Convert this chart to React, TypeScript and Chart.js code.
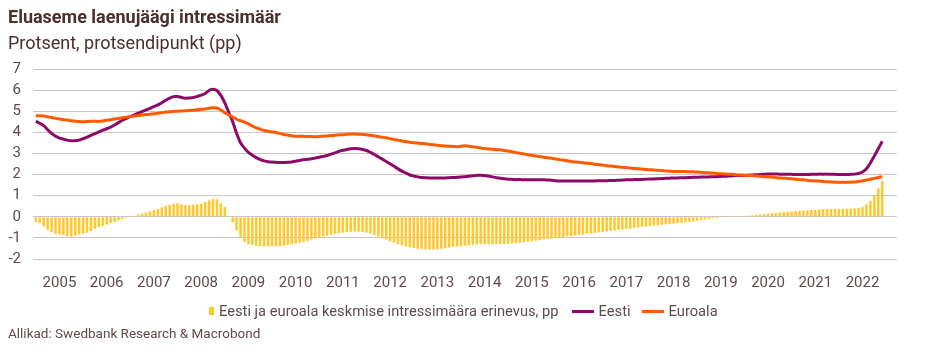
import React, { useEffect, useRef } from "react";
import { Chart, registerables } from "chart.js";

Chart.register(...registerables);

const START_YEAR = 2005;
const YEAR_LABELS = [2005, 2006, 2007, 2008, 2009, 2010, 2011, 2012, 2013, 2014, 2015, 2016, 2017, 2018, 2019, 2020, 2021, 2022];
const Y_TICKS = [-2, -1, 0, 1, 2, 3, 4, 5, 6, 7];

// Monthly, Jan 2005 - Dec 2022
const EESTI = [
  4.53, 4.43, 4.32, 4.12, 3.95, 3.82, 3.73, 3.68, 3.63, 3.60, 3.60, 3.63,
  3.70, 3.77, 3.86, 3.94, 4.02, 4.10, 4.17, 4.25, 4.35, 4.46, 4.57, 4.66,
  4.75, 4.83, 4.91, 4.98, 5.06, 5.14, 5.22, 5.30, 5.40, 5.52, 5.62, 5.69,
  5.70, 5.65, 5.62, 5.63, 5.65, 5.70, 5.76, 5.84, 5.98, 6.04, 5.98, 5.75,
  5.40, 4.95, 4.50, 3.95, 3.50, 3.25, 3.05, 2.92, 2.80, 2.71, 2.65, 2.61,
  2.59, 2.58, 2.57, 2.57, 2.58, 2.60, 2.63, 2.67, 2.70, 2.72, 2.75, 2.78,
  2.82, 2.86, 2.90, 2.97, 3.03, 3.10, 3.15, 3.19, 3.22, 3.23, 3.22, 3.19,
  3.14, 3.05, 2.95, 2.84, 2.73, 2.62, 2.51, 2.39, 2.27, 2.16, 2.07, 1.98,
  1.93, 1.89, 1.86, 1.85, 1.84, 1.84, 1.84, 1.84, 1.84, 1.85, 1.86, 1.87,
  1.88, 1.90, 1.92, 1.94, 1.96, 1.97, 1.95, 1.93, 1.89, 1.85, 1.83, 1.80,
  1.78, 1.77, 1.76, 1.76, 1.75, 1.75, 1.75, 1.75, 1.75, 1.75, 1.74, 1.73,
  1.71, 1.70, 1.70, 1.69, 1.69, 1.69, 1.69, 1.69, 1.70, 1.70, 1.70, 1.71,
  1.71, 1.71, 1.72, 1.72, 1.73, 1.74, 1.75, 1.75, 1.76, 1.77, 1.77, 1.78,
  1.79, 1.79, 1.80, 1.81, 1.82, 1.83, 1.84, 1.84, 1.85, 1.85, 1.86, 1.87,
  1.87, 1.88, 1.88, 1.89, 1.90, 1.90, 1.91, 1.92, 1.93, 1.94, 1.95, 1.95,
  1.96, 1.97, 1.98, 1.99, 2.00, 2.02, 2.03, 2.03, 2.03, 2.02, 2.02, 2.01,
  2.01, 2.00, 2.00, 2.00, 2.00, 2.01, 2.01, 2.02, 2.02, 2.02, 2.01, 2.01,
  2.00, 2.00, 2.00, 2.01, 2.02, 2.05, 2.12, 2.27, 2.55, 2.88, 3.22, 3.58,
];

const EUROALA = [
  4.79, 4.79, 4.78, 4.74, 4.70, 4.66, 4.63, 4.60, 4.58, 4.55, 4.53, 4.51,
  4.50, 4.51, 4.52, 4.52, 4.52, 4.54, 4.57, 4.60, 4.63, 4.66, 4.69, 4.72,
  4.75, 4.77, 4.80, 4.82, 4.84, 4.86, 4.88, 4.91, 4.93, 4.96, 4.98, 4.99,
  5.00, 5.01, 5.02, 5.03, 5.05, 5.07, 5.09, 5.11, 5.14, 5.17, 5.15, 5.06,
  4.93, 4.83, 4.73, 4.62, 4.55, 4.48, 4.40, 4.30, 4.21, 4.15, 4.09, 4.05,
  4.02, 3.99, 3.95, 3.90, 3.87, 3.84, 3.81, 3.81, 3.81, 3.80, 3.80, 3.79,
  3.80, 3.82, 3.83, 3.85, 3.86, 3.88, 3.89, 3.91, 3.92, 3.92, 3.91, 3.90,
  3.89, 3.86, 3.83, 3.80, 3.77, 3.74, 3.70, 3.66, 3.63, 3.59, 3.56, 3.53,
  3.51, 3.49, 3.47, 3.46, 3.43, 3.41, 3.39, 3.37, 3.35, 3.34, 3.33, 3.32,
  3.34, 3.36, 3.34, 3.32, 3.29, 3.26, 3.23, 3.21, 3.20, 3.18, 3.17, 3.14,
  3.11, 3.08, 3.04, 3.01, 2.98, 2.94, 2.91, 2.88, 2.85, 2.82, 2.80, 2.77,
  2.74, 2.71, 2.68, 2.65, 2.62, 2.60, 2.58, 2.56, 2.54, 2.52, 2.49, 2.47,
  2.45, 2.42, 2.40, 2.38, 2.36, 2.34, 2.33, 2.31, 2.29, 2.28, 2.26, 2.24,
  2.23, 2.22, 2.20, 2.19, 2.17, 2.16, 2.15, 2.14, 2.14, 2.14, 2.13, 2.13,
  2.12, 2.11, 2.09, 2.08, 2.07, 2.05, 2.04, 2.03, 2.02, 2.01, 1.99, 1.98,
  1.97, 1.96, 1.95, 1.93, 1.92, 1.90, 1.89, 1.88, 1.86, 1.84, 1.83, 1.81,
  1.80, 1.78, 1.76, 1.75, 1.73, 1.71, 1.70, 1.69, 1.67, 1.66, 1.65, 1.64,
  1.63, 1.63, 1.63, 1.64, 1.65, 1.67, 1.70, 1.74, 1.78, 1.82, 1.86, 1.90,
];

const ERINEVUS = [
  -0.25, -0.30, -0.46, -0.62, -0.73, -0.81, -0.84, -0.87, -0.92, -0.94, -0.90, -0.84,
  -0.81, -0.76, -0.68, -0.57, -0.49, -0.43, -0.37, -0.30, -0.24, -0.17, -0.11, -0.05,
  -0.02, 0.00, 0.10, 0.16, 0.20, 0.25, 0.32, 0.37, 0.44, 0.51, 0.56, 0.62,
  0.65, 0.59, 0.56, 0.56, 0.57, 0.59, 0.62, 0.70, 0.78, 0.84, 0.83, 0.65,
  0.46, 0.05, -0.25, -0.65, -0.97, -1.19, -1.29, -1.33, -1.38, -1.39, -1.40, -1.40,
  -1.40, -1.40, -1.40, -1.37, -1.33, -1.30, -1.27, -1.23, -1.19, -1.14, -1.08, -1.03,
  -0.98, -0.94, -0.89, -0.85, -0.81, -0.78, -0.75, -0.73, -0.71, -0.70, -0.70, -0.72,
  -0.75, -0.80, -0.86, -0.93, -1.00, -1.08, -1.16, -1.23, -1.29, -1.35, -1.41, -1.45,
  -1.49, -1.52, -1.54, -1.55, -1.56, -1.55, -1.54, -1.52, -1.49, -1.46, -1.43, -1.41,
  -1.40, -1.38, -1.36, -1.33, -1.31, -1.30, -1.30, -1.30, -1.30, -1.30, -1.30, -1.29,
  -1.28, -1.27, -1.26, -1.24, -1.21, -1.18, -1.16, -1.13, -1.10, -1.07, -1.05, -1.03,
  -1.01, -0.99, -0.96, -0.93, -0.91, -0.88, -0.86, -0.84, -0.81, -0.79, -0.77, -0.74,
  -0.72, -0.70, -0.67, -0.65, -0.62, -0.60, -0.58, -0.56, -0.53, -0.51, -0.48, -0.46,
  -0.44, -0.42, -0.40, -0.38, -0.36, -0.34, -0.32, -0.30, -0.28, -0.26, -0.24, -0.22,
  -0.19, -0.16, -0.13, -0.10, -0.08, -0.06, -0.04, -0.03, -0.01, 0.00, 0.01, 0.02,
  0.03, 0.05, 0.07, 0.09, 0.11, 0.13, 0.15, 0.17, 0.18, 0.20, 0.22, 0.24,
  0.25, 0.27, 0.28, 0.30, 0.31, 0.32, 0.33, 0.35, 0.36, 0.37, 0.37, 0.38,
  0.38, 0.38, 0.38, 0.39, 0.40, 0.42, 0.45, 0.58, 0.75, 1.00, 1.35, 1.70,
];

const C_EESTI = "#8c0a68";
const C_EURO = "#ff5a00";
const C_BAR = "#ffc82e";
const C_TEXT = "#4a2f2f";
const C_TICK = "#5e4c4c";
const C_GRID = "#cfc4c5";
const FONT = "Roboto, 'Noto Sans', sans-serif";

const monthX = (i: number) => START_YEAR + i / 12;

export default function App() {
  const ref = useRef<HTMLCanvasElement | null>(null);

  useEffect(() => {
    if (!ref.current) return;
    const chart = new Chart(ref.current, {
      type: "bar",
      data: {
        datasets: [
          {
            type: "line",
            label: "Euroala",
            data: EUROALA.map((v, i) => ({ x: monthX(i), y: v })),
            borderColor: C_EURO,
            backgroundColor: C_EURO,
            borderWidth: 3,
            pointRadius: 0,
            tension: 0.3,
            order: 1,
          },
          {
            type: "line",
            label: "Eesti",
            data: EESTI.map((v, i) => ({ x: monthX(i), y: v })),
            borderColor: C_EESTI,
            backgroundColor: C_EESTI,
            borderWidth: 3,
            pointRadius: 0,
            tension: 0.3,
            order: 2,
          },
          {
            type: "bar",
            label: "Eesti ja euroala keskmise intressimäära erinevus, pp",
            data: ERINEVUS.map((v, i) => ({ x: monthX(i), y: v })),
            backgroundColor: C_BAR,
            borderWidth: 0,
            barPercentage: 0.65,
            categoryPercentage: 1,
            order: 3,
          } as any,
        ],
      },
      options: {
        animation: false,
        responsive: false,
        maintainAspectRatio: false,
        layout: { padding: { top: 69, bottom: 68, left: 0, right: 28 } },
        plugins: {
          legend: { display: false },
          tooltip: { enabled: false },
          title: { display: false },
        },
        scales: {
          x: {
            type: "linear",
            min: START_YEAR - 0.06,
            max: 2023.23,
            offset: false,
            grid: { display: false, drawTicks: false },
            border: { display: false },
            afterBuildTicks: (scale: any) => {
              scale.ticks = YEAR_LABELS.map((y) => ({ value: y + 0.5 }));
            },
            afterFit: (scale: any) => {
              scale.height = 34;
            },
            ticks: {
              autoSkip: false,
              maxRotation: 0,
              padding: 15,
              color: C_TICK,
              font: { family: FONT, size: 15 },
              callback: (v: any) => String(Math.floor(Number(v))),
            },
          },
          y: {
            type: "linear",
            min: -2,
            max: 7,
            afterBuildTicks: (scale: any) => {
              scale.ticks = Y_TICKS.map((v) => ({ value: v }));
            },
            afterFit: (scale: any) => {
              scale.width = 33;
            },
            grid: { color: C_GRID, lineWidth: 1, drawTicks: false },
            border: { display: false },
            ticks: {
              autoSkip: false,
              padding: 12,
              color: C_TICK,
              font: { family: FONT, size: 15 },
            },
          },
        },
      },
    });
    return () => chart.destroy();
  }, []);

  const lineSwatch = (color: string) => (
    <span style={{ display: "inline-block", width: 22, height: 3, background: color, marginRight: 5 }} />
  );

  return (
    <div style={{ position: "fixed", left: 0, top: 0, width: 925, height: 361, background: "#fff", fontFamily: FONT, overflow: "hidden" }}>
      <canvas ref={ref} width={925} height={361} style={{ position: "absolute", left: 0, top: 0, width: 925, height: 361 }} />
      <div style={{ position: "absolute", left: 8, top: 6, fontSize: 18, fontWeight: 700, color: C_TEXT, lineHeight: "22px", whiteSpace: "nowrap" }}>
        Eluaseme laenujäägi intressimäär
      </div>
      <div style={{ position: "absolute", left: 8, top: 32, fontSize: 18, color: C_TEXT, lineHeight: "22px", whiteSpace: "nowrap" }}>
        Protsent, protsendipunkt (pp)
      </div>
      <div style={{ position: "absolute", left: 209, top: 302, fontSize: 14.7, color: C_TICK, lineHeight: "18px", whiteSpace: "nowrap", display: "flex", alignItems: "center" }}>
        <span style={{ display: "inline-block", width: 5, height: 8, background: C_BAR, marginRight: 5 }} />
        <span style={{ marginRight: 13 }}>Eesti ja euroala keskmise intressimäära erinevus, pp</span>
        {lineSwatch(C_EESTI)}
        <span style={{ marginRight: 11 }}>Eesti</span>
        {lineSwatch(C_EURO)}
        <span>Euroala</span>
      </div>
      <div style={{ position: "absolute", left: 8, top: 325, fontSize: 13.5, color: C_TICK, lineHeight: "16px", whiteSpace: "nowrap" }}>
        Allikad: Swedbank Research &amp; Macrobond
      </div>
    </div>
  );
}
